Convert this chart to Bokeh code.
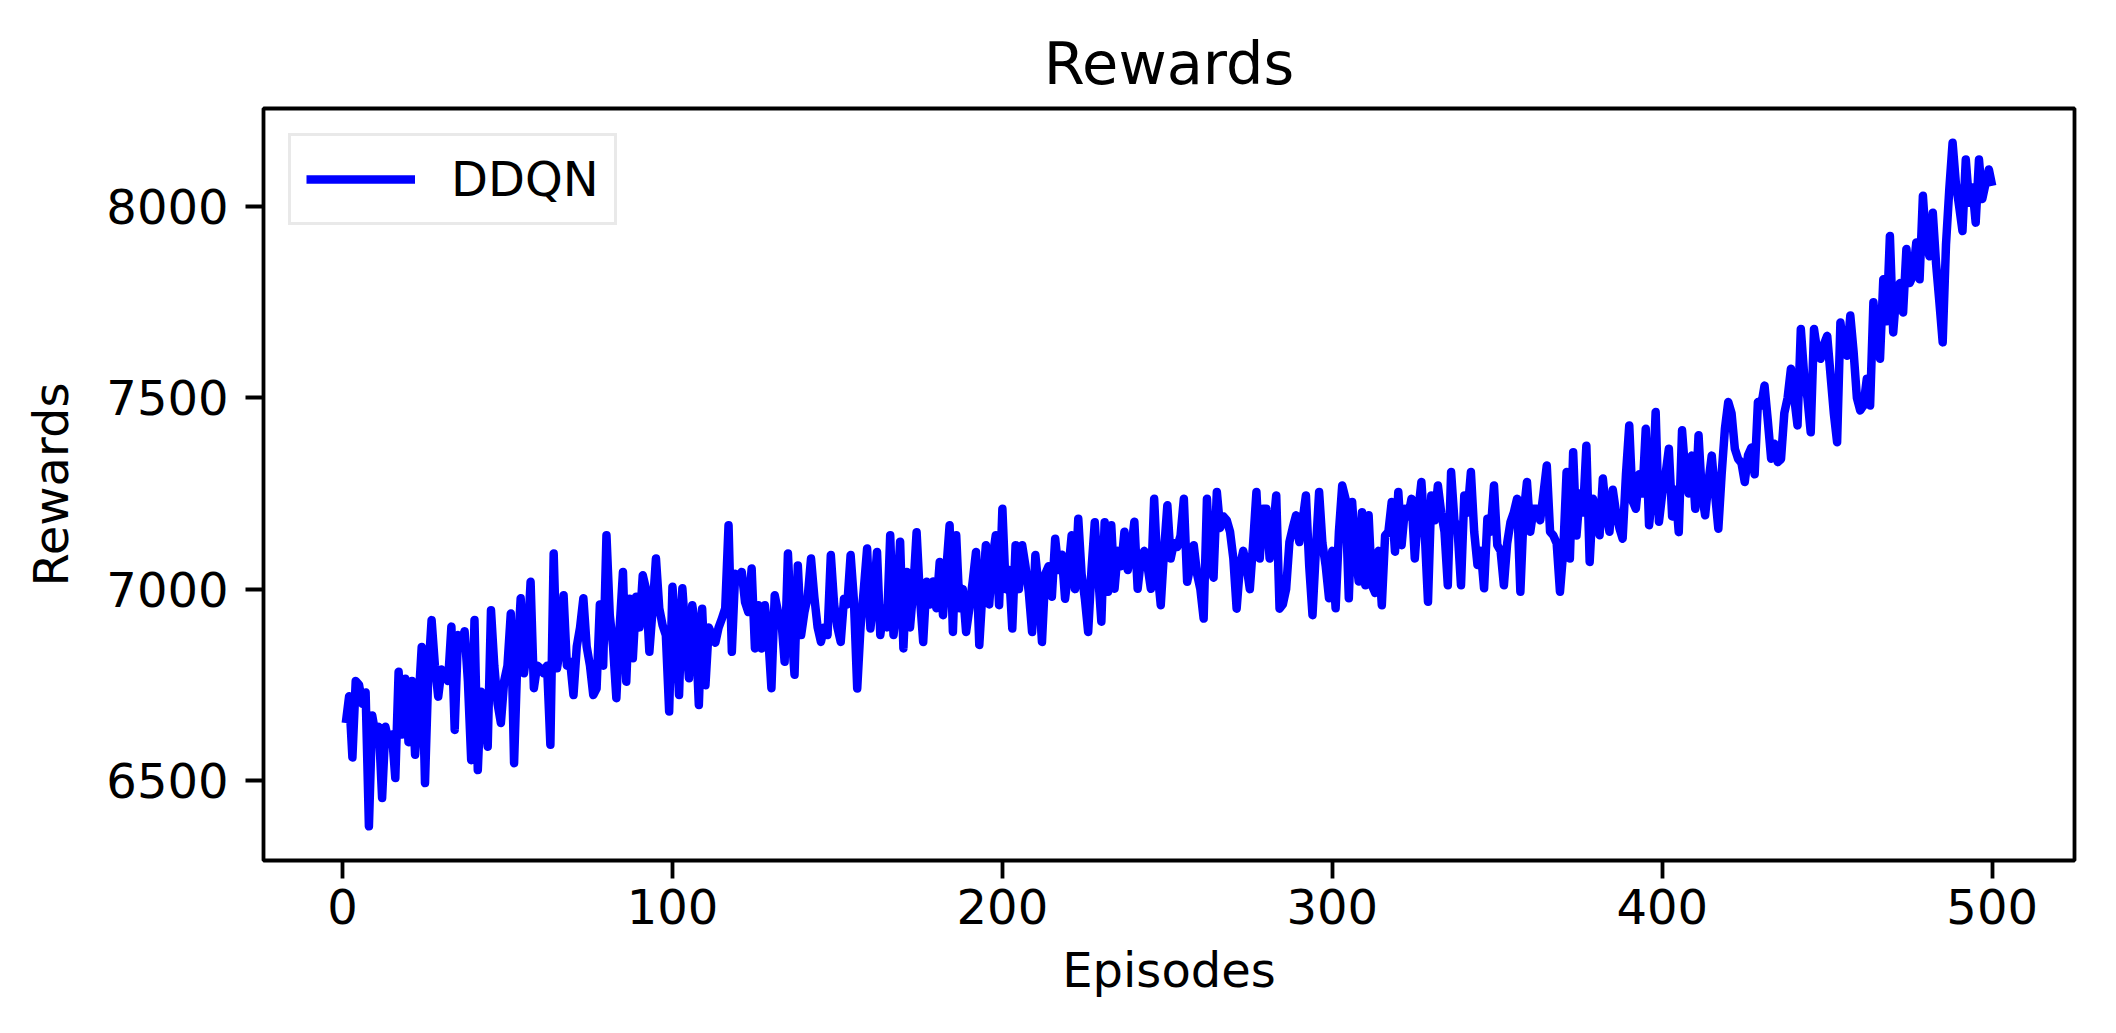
from bokeh.plotting import figure
from bokeh.embed import file_html
from bokeh.resources import INLINE
from bokeh.models import FixedTicker, Range1d, Legend, LegendItem

title_text = "Rewards"
x_label = "Episodes"
y_label = "Rewards"
series_name = "DDQN"
x_ticks = [0, 100, 200, 300, 400, 500]
y_ticks = [6500, 7000, 7500, 8000]

rewards = [
    6650, 6720, 6560, 6760, 6750, 6700, 6730, 6380, 6670, 6620,
    6640, 6454, 6640, 6600, 6620, 6506, 6784, 6620, 6766, 6600,
    6760, 6567, 6700, 6849, 6493, 6780, 6919, 6800, 6719, 6790,
    6780, 6760, 6902, 6632, 6880, 6860, 6890, 6760, 6553, 6919,
    6527, 6732, 6690, 6588, 6945, 6800, 6700, 6650, 6760, 6800,
    6936, 6545, 6820, 6976, 6780, 6850, 7019, 6741, 6800, 6793,
    6780, 6800, 6593, 7093, 6793, 6850, 6984, 6800, 6810, 6723,
    6850, 6900, 6976, 6850, 6800, 6723, 6740, 6960, 6800, 7141,
    6932, 6850, 6715, 6900, 7045, 6758, 6975, 6819, 6980, 6900,
    7036, 7000, 6836, 6950, 7080, 6950, 6906, 6880, 6680, 7006,
    6900, 6723, 7002, 6880, 6767, 6958, 6900, 6697, 6949, 6749,
    6900, 6880, 6860, 6900, 6923, 6950, 7167, 6836, 7040, 7030,
    7045, 6966, 6940, 7054, 6845, 6958, 6845, 6958, 6880, 6741,
    6984, 6940, 6920, 6810, 7093, 6900, 6776, 7062, 6880, 6940,
    6980, 7080, 6980, 6900, 6862, 6900, 6880, 7089, 6960, 6900,
    6862, 6975, 6960, 7089, 6970, 6740, 6900, 7000, 7106, 6897,
    6980, 7097, 6880, 6950, 6900, 7141, 6880, 6960, 7124, 6845,
    7045, 6900, 7000, 7149, 6980, 6862, 7019, 6960, 7020, 6950,
    7071, 6932, 7050, 7167, 6888, 7141, 6950, 7000, 6888, 6950,
    7020, 7097, 6854, 7000, 7115, 6960, 7080, 7141, 6958, 7210,
    7000, 7050, 6897, 7115, 7000, 7115, 7060, 6993, 6888, 7089,
    7000, 6862, 7040, 7060, 6980, 7132, 7050, 7090, 6975, 7050,
    7141, 7000, 7184, 7040, 6975, 6888, 7050, 7175, 7040, 6915,
    7175, 6993, 7167, 7001, 7100, 7060, 7150, 7050, 7100, 7176,
    7001, 7080, 7100, 7060, 7001, 7236, 7050, 6958, 7100, 7219,
    7080, 7120, 7110, 7140, 7236, 7019, 7060, 7115, 7040, 7000,
    6923, 7236, 7060, 7030, 7254, 7160, 7190, 7180, 7150, 7080,
    6949, 7060, 7100, 7060, 7000, 7120, 7254, 7080, 7210, 7210,
    7080, 7150, 7245, 6949, 6960, 7000, 7123, 7160, 7193, 7123,
    7180, 7245, 7060, 6932, 7100, 7254, 7120, 7060, 6976, 7100,
    6950, 7150, 7271, 7236, 6976, 7228, 7100, 7020, 7201, 7010,
    7193, 7010, 6990, 7100, 6958, 7140, 7150, 7228, 7098, 7254,
    7115, 7210, 7190, 7236, 7080, 7200, 7280, 7150, 6967, 7245,
    7180, 7271, 7200, 7150, 7010, 7306, 7180, 7150, 7010, 7245,
    7200, 7306, 7150, 7063, 7100, 7002, 7184, 7150, 7271, 7115,
    7100, 7010, 7120, 7175, 7200, 7236, 6993, 7200, 7280, 7150,
    7210, 7210, 7180, 7250, 7323, 7150, 7140, 7120, 6993, 7100,
    7306, 7080, 7358, 7140, 7250, 7200, 7375, 7071, 7236, 7200,
    7141, 7289, 7200, 7150, 7260, 7200, 7160, 7132, 7300, 7428,
    7230, 7210, 7300, 7250, 7419, 7167, 7250, 7463, 7176, 7250,
    7300, 7367, 7190, 7260, 7149, 7415, 7300, 7250, 7349, 7210,
    7402, 7250, 7193, 7280, 7349, 7250, 7158, 7300, 7420, 7489,
    7460, 7367, 7340, 7330, 7280, 7350, 7370, 7300, 7489, 7480,
    7532, 7440, 7341, 7380, 7332, 7340, 7460, 7500, 7576, 7500,
    7428, 7680, 7560, 7500, 7410, 7680, 7620, 7602, 7640, 7662,
    7560, 7460, 7384, 7697, 7620, 7610, 7715, 7620, 7500, 7467,
    7480, 7550, 7480, 7750, 7650, 7602, 7810, 7700, 7923, 7671,
    7780, 7800, 7723, 7889, 7800, 7820, 7906, 7810, 8028, 7900,
    7870, 7984, 7850, 7750, 7645, 7900, 8045, 8167, 8060, 8000,
    7936, 8123, 8010, 8050, 7958, 8123, 8020, 8060, 8097, 8054,
]
episodes = list(range(1, len(rewards) + 1))

FONT = "DejaVu Sans"

xmin, xmax = min(episodes), max(episodes)
ymin, ymax = min(rewards), max(rewards)
xpad = 0.05 * (xmax - xmin)
ypad = 0.05 * (ymax - ymin)

p = figure(
    width=2100, height=1017,
    output_backend="svg", toolbar_location=None,
    x_range=Range1d(xmin - xpad, xmax + xpad),
    y_range=Range1d(ymin - ypad, ymax + ypad),
    min_border_left=263, min_border_right=26,
    min_border_top=108, min_border_bottom=157,
    title=title_text,
)
p.background_fill_color = "white"
p.border_fill_color = "white"
p.outline_line_color = "black"
p.outline_line_width = 3.8
p.grid.visible = False

p.title.align = "center"
p.title.text_font = FONT
p.title.text_font_size = "59px"
p.title.text_font_style = "normal"
p.title.text_color = "black"
p.title.standoff = 22

for ax in (p.xaxis[0], p.yaxis[0]):
    ax.axis_line_color = None
    ax.major_tick_line_color = "black"
    ax.major_tick_line_width = 3.8
    ax.major_tick_out = 18
    ax.major_tick_in = 0
    ax.minor_tick_line_color = None
    ax.major_label_text_font = FONT
    ax.major_label_text_font_size = "48px"
    ax.major_label_text_color = "black"
    ax.axis_label_text_font = FONT
    ax.axis_label_text_font_size = "48px"
    ax.axis_label_text_font_style = "normal"
    ax.axis_label_text_color = "black"

p.xaxis[0].ticker = FixedTicker(ticks=x_ticks)
p.yaxis[0].ticker = FixedTicker(ticks=y_ticks)
p.xaxis[0].axis_label = x_label
p.yaxis[0].axis_label = y_label
p.xaxis[0].major_label_standoff = 10
p.xaxis[0].axis_label_standoff = 15
p.yaxis[0].major_label_standoff = 17
p.yaxis[0].axis_label_standoff = 24

r = p.line(episodes, rewards, line_color="#0000ff", line_width=8.5, line_join="round")

legend = Legend(
    items=[LegendItem(label=series_name, renderers=[r])],
    location="top_left",
    margin=25,
    padding=15,
    spacing=0,
    glyph_width=109,
    glyph_height=52,
    label_standoff=36,
    label_text_font=FONT,
    label_text_font_size="48px",
    label_text_color="black",
    border_line_color="#d4d4d4",
    border_line_width=3,
    background_fill_color="white",
    background_fill_alpha=0.8,
)
p.add_layout(legend, "center")

open("out.html", "w").write(file_html(p, INLINE))
